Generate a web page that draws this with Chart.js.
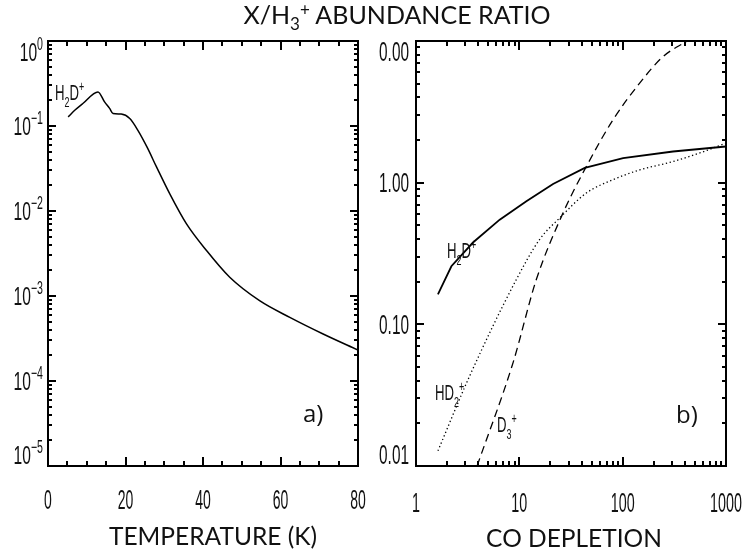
<!DOCTYPE html>
<html>
<head>
<meta charset="utf-8">
<script src="https://cdn.jsdelivr.net/npm/chart.js"></script>
<style>
  body { margin: 0; background: #fff; }
  #wrap { position: relative; width: 746px; height: 557px; overflow: hidden; background: #fff; }
  .panel { position: absolute; top: 0; }
  #title { position: absolute; top: 2px; left: 0; width: 794px; text-align: center;
           font: 25px Lato, "Open Sans", sans-serif; color: #111; line-height: 25px; white-space: nowrap; }
  #title sub, #title sup { font-size: 0.68em; line-height: 0; }
  #title sub { vertical-align: -0.35em; }
  #title sup { vertical-align: 0.45em; }
</style>
</head>
<body>
<div id="wrap">
  <canvas id="tempChart" class="panel" width="373" height="557" style="left:0"></canvas>
  <canvas id="depChart" class="panel" width="373" height="557" style="left:373px"></canvas>
  <div id="title">X/H<sub>3</sub><sup>+</sup> ABUNDANCE RATIO</div>
</div>
<script>
// panel a) H2D+/H3+ against temperature
const tempK     = [5.2, 6.9, 9.0, 12.9, 14.6, 15.9, 16.8, 18.9, 21.1, 23.2, 25.6, 28, 31.4, 35.7, 40.9, 46.9, 54.6, 62.4, 71, 80];
const h2dVsTemp = [0.128, 0.153, 0.184, 0.252, 0.192, 0.161, 0.140, 0.138, 0.1225, 0.089, 0.056, 0.033, 0.016, 0.0071, 0.00343, 0.00166, 0.00088, 0.00056, 0.000357, 0.000231];

// panel b) ratios against CO depletion
const depH2D   = [1.63, 2.2, 3.56, 6.46, 11.7, 21.2, 43, 101, 307, 1000];
const h2dVsDep = [0.163, 0.257, 0.378, 0.548, 0.738, 0.98, 1.27, 1.49, 1.66, 1.80];
const depHD2   = [1.63, 3.31, 9.35, 15.7, 24.6, 44.5, 80.7, 146, 307, 557, 1000];
const hd2VsDep = [0.0128, 0.0433, 0.207, 0.397, 0.564, 0.845, 1.05, 1.23, 1.41, 1.62, 1.90];
const depD3    = [3.9, 8.7, 14.6, 26.5, 44.5, 80.7, 146, 246, 420];
const d3VsDep  = [0.01, 0.0537, 0.207, 0.612, 1.30, 2.78, 5.04, 7.76, 10];

// tick labels
const tempTickVals   = [0, 20, 40, 60, 80];
const tempTickLabels = ['0', '20', '40', '60', '80'];
const ratioExpVals   = [1, 0.1, 0.01, 0.001, 0.0001, 0.00001];
const ratioExpLabels = ['0', '\u22121', '\u22122', '\u22123', '\u22124', '\u22125'];
const depTickVals    = [1, 10, 100, 1000];
const depTickLabels  = ['1', '10', '100', '1000'];
const bRatioVals     = [0.01, 0.1, 1, 10];
const bRatioLabels   = ['0.01', '0.10', '1.00', '0.00'];

const NUM_FONT = '"Liberation Sans", Arial, sans-serif';
const TITLE_FONT = 'Lato, "Open Sans", sans-serif';

function linTicks(min, max, step, majors) {
  const out = [];
  for (let v = min; v <= max + 1e-9; v += step) out.push([v, majors.includes(v)]);
  return out;
}
function logTicks(e0, e1) {
  const out = [];
  for (let e = e0; e < e1; e++) {
    for (let k = 1; k < 10; k++) out.push([Number((k * Math.pow(10, e)).toPrecision(6)), k === 1]);
  }
  out.push([Math.pow(10, e1), true]);
  return out;
}

// text with sub (1) and superscript (2) parts, squeezed by sx
function drawRich(ctx, parts, x, y, o) {
  ctx.save();
  ctx.translate(x, y);
  ctx.scale(o.sx || 1, 1);
  ctx.textBaseline = 'alphabetic';
  ctx.textAlign = 'left';
  let w = 0;
  const segs = parts.map(([t, m]) => {
    const fs = m ? o.size * 0.68 : o.size;
    ctx.font = `${fs}px ${o.font}`;
    const sw = ctx.measureText(t).width;
    w += sw;
    return { t, m, fs, sw };
  });
  let cx = o.align === 'right' ? -w : o.align === 'center' ? -w / 2 : 0;
  segs.forEach(s => {
    ctx.font = `${s.fs}px ${o.font}`;
    const dy = s.m === 1 ? o.size * 0.3 : s.m === 2 ? -o.size * 0.42 : 0;
    ctx.fillText(s.t, cx, dy);
    cx += s.sw;
  });
  ctx.restore();
}

// per-panel frame settings, kept out of the options resolver
const frames = {};

// IDL style box: frame, inward ticks on all sides, labels
const idlFrame = {
  id: 'idlFrame',
  afterDatasetsDraw(chart) {
    const o = frames[chart.canvas.id];
    const { ctx, chartArea: a, scales: { x, y } } = chart;
    ctx.save();
    ctx.setLineDash([]);
    ctx.fillStyle = '#000';
    o.xTicks.forEach(([v, major]) => {
      const px = Math.round(x.getPixelForValue(v));
      const len = major ? 9 : 5;
      ctx.fillRect(px - 1, a.bottom - len, 2, len);
      ctx.fillRect(px - 1, a.top, 2, len);
    });
    o.yTicks.forEach(([v, major]) => {
      const py = Math.round(y.getPixelForValue(v));
      const len = major ? 8 : 4;
      ctx.fillRect(a.left, py - 1, len, 2);
      ctx.fillRect(a.right - len, py - 1, len, 2);
    });
    ctx.strokeStyle = '#000';
    ctx.lineWidth = 2;
    ctx.strokeRect(a.left, a.top, a.right - a.left, a.bottom - a.top);
    ctx.fillStyle = '#111';

    // x labels
    o.xLabels.forEach(([v, parts]) => {
      drawRich(ctx, parts, x.getPixelForValue(v), o.xBase, { size: o.xSize, sx: o.xSx, font: NUM_FONT, align: 'center' });
    });
    // y labels, kept inside the box at both ends
    const cap = o.ySize * 0.716;
    o.yLabels.forEach(([v, parts]) => {
      let cy = y.getPixelForValue(v);
      cy = Math.min(Math.max(cy, a.top + cap / 2 + 1), a.bottom - cap / 2 - 2);
      drawRich(ctx, parts, a.left - o.yGap, cy + cap / 2, { size: o.ySize, sx: o.ySx, font: NUM_FONT, align: 'right' });
    });
    // curve labels
    o.notes.forEach(nt => drawRich(ctx, nt.parts, nt.x, nt.y, { size: 22, sx: 0.6, font: NUM_FONT }));
    // panel letter
    drawRich(ctx, [[o.letter[0], 0]], o.letter[1], o.letter[2], { size: 24, font: '"Open Sans", sans-serif' });
    // axis title
    drawRich(ctx, [[o.title[0], 0]], o.title[1], o.title[2], { size: 24.5, font: TITLE_FONT, align: 'center' });
    ctx.restore();
  }
};

function hiddenScale(extra) {
  return Object.assign({
    grid: { display: false, drawTicks: false },
    border: { display: false },
    ticks: { display: false }
  }, extra);
}

function makeChart(id, xs, ys, datasets, pad, frame) {
  frames[id] = frame;
  return new Chart(document.getElementById(id), {
    type: 'scatter',
    data: { datasets },
    options: {
      responsive: false,
      animation: false,
      layout: { padding: pad },
      elements: { point: { radius: 0 } },
      plugins: { legend: { display: false }, tooltip: { enabled: false } },
      scales: { x: xs, y: ys }
    },
    plugins: [idlFrame]
  });
}

const pts = (xs, ys) => xs.map((v, i) => ({ x: v, y: ys[i] }));
const h2dParts = [['H', 0], ['2', 1], ['D', 0], ['+', 2]];

makeChart('tempChart',
  hiddenScale({ type: 'linear', min: 0, max: 80 }),
  hiddenScale({ type: 'logarithmic', min: 1e-5, max: 1 }),
  [{
    data: pts(tempK, h2dVsTemp), showLine: true, borderColor: '#000', borderWidth: 1.5,
    cubicInterpolationMode: 'monotone'
  }],
  { left: 48, top: 41, right: 15, bottom: 91 },
  {
    xTicks: linTicks(0, 80, 5, tempTickVals),
    yTicks: logTicks(-5, 0),
    xLabels: tempTickVals.map((v, i) => [v, [[tempTickLabels[i], 0]]]),
    xBase: 509, xSize: 28, xSx: 0.5,
    yLabels: ratioExpVals.map((v, i) => [v, [['10', 0], [ratioExpLabels[i], 2]]]),
    ySize: 26, ySx: 0.6, yGap: 5,
    notes: [{ parts: h2dParts, x: 55, y: 100 }],
    letter: ['a)', 303, 422],
    title: ['TEMPERATURE (K)', 213, 545]
  });

makeChart('depChart',
  hiddenScale({ type: 'logarithmic', min: 1, max: 1000 }),
  hiddenScale({ type: 'logarithmic', min: 0.01, max: 10 }),
  [
    { data: pts(depH2D, h2dVsDep), showLine: true, borderColor: '#000', borderWidth: 1.8 },
    { data: pts(depHD2, hd2VsDep), showLine: true, borderColor: '#000', borderWidth: 1.3, borderDash: [1.3, 2.6],
      cubicInterpolationMode: 'monotone' },
    { data: pts(depD3, d3VsDep), showLine: true, borderColor: '#000', borderWidth: 1.3, borderDash: [8, 5],
      cubicInterpolationMode: 'monotone' }
  ],
  { left: 43, top: 41, right: 20, bottom: 91 },
  {
    xTicks: logTicks(0, 3),
    yTicks: logTicks(-2, 1),
    xLabels: depTickVals.map((v, i) => [v, [[depTickLabels[i], 0]]]),
    xBase: 512, xSize: 27, xSx: 0.53,
    yLabels: bRatioVals.map((v, i) => [v, [[bRatioLabels[i], 0]]]),
    ySize: 27, ySx: 0.57, yGap: 7,
    notes: [
      { parts: h2dParts, x: 447 - 373, y: 258 },
      { parts: [['H', 0], ['D', 0], ['2', 1], ['+', 2]], x: 435 - 373, y: 400 },
      { parts: [['D', 0], ['3', 1], ['+', 2]], x: 497 - 373, y: 432 }
    ],
    letter: ['b)', 676 - 373, 423],
    title: ['CO DEPLETION', 574 - 373, 547]
  });
</script>
</body>
</html>
